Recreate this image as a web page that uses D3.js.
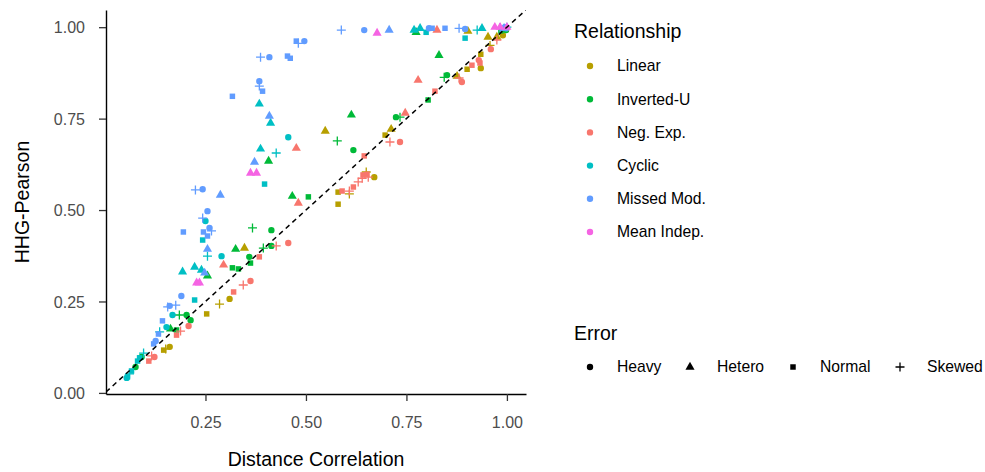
<!DOCTYPE html>
<html>
<head>
<meta charset="utf-8">
<script src="https://cdn.jsdelivr.net/npm/d3@7"></script>
<style>
  body { margin: 0; background: #fff; }
  text { font-family: "Liberation Sans", Arial, Helvetica, sans-serif; }
</style>
</head>
<body>
<script>
// ---- Data (x = Distance Correlation, y = HHG-Pearson, error type code) ----
// H = Heavy, T = Hetero, N = Normal, S = Skewed
const relationships = ["Linear", "Inverted-U", "Neg. Exp.", "Cyclic", "Missed Mod.", "Mean Indep."];
const relColors = ["#B79F00", "#00BA38", "#F8766D", "#00BFC4", "#619CFF", "#F564E3"];
const errorCodes = ["H", "T", "N", "S"];
const errorNames = ["Heavy", "Hetero", "Normal", "Skewed"];
const xTicks = [0.25, 0.50, 0.75, 1.00];
const yTicks = [0.00, 0.25, 0.50, 0.75, 1.00];

const linear = [
  [0.548,0.716,"T"],[0.712,0.721,"T"],[0.697,0.705,"N"],[0.347,0.396,"T"],[0.310,0.257,"H"],
  [0.285,0.243,"S"],[0.253,0.216,"N"],[0.146,0.117,"N"],[0.151,0.120,"S"],[0.161,0.126,"H"],
  [0.670,0.590,"H"],[0.650,0.604,"S"],[0.580,0.549,"N"],[0.580,0.516,"N"],[0.608,0.544,"S"],
  [0.901,0.885,"N"],[0.935,0.888,"H"],[0.935,0.926,"N"],[0.876,0.866,"T"],[0.953,0.973,"T"],
  [0.975,0.973,"T"],[0.990,0.978,"H"],[0.903,0.989,"T"],[0.958,0.950,"S"],[0.995,0.995,"N"]
];
const invertedU = [
  [0.407,0.634,"T"],[0.466,0.538,"T"],[0.506,0.536,"N"],[0.367,0.451,"S"],[0.414,0.445,"H"],
  [0.325,0.393,"T"],[0.394,0.396,"S"],[0.414,0.402,"H"],[0.359,0.372,"H"],[0.362,0.355,"N"],
  [0.317,0.342,"N"],[0.332,0.339,"N"],[0.255,0.320,"T"],[0.185,0.213,"S"],[0.203,0.213,"H"],
  [0.213,0.199,"H"],[0.163,0.175,"T"],[0.178,0.172,"N"],[0.091,0.098,"H"],[0.076,0.071,"H"],
  [0.613,0.760,"T"],[0.578,0.689,"S"],[0.618,0.664,"H"],[0.724,0.754,"H"],[0.734,0.754,"S"],
  [0.804,0.801,"N"],[0.851,0.869,"H"],[0.844,0.863,"S"],[0.831,0.923,"T"],[0.774,0.986,"T"],
  [0.998,0.992,"H"],[0.985,0.990,"N"]
];
const negExp = [
  [0.476,0.669,"T"],[0.481,0.519,"T"],[0.456,0.410,"H"],[0.426,0.402,"S"],[0.384,0.372,"N"],
  [0.295,0.350,"T"],[0.362,0.306,"H"],[0.344,0.295,"S"],[0.320,0.276,"N"],[0.208,0.183,"H"],
  [0.188,0.169,"S"],[0.178,0.158,"N"],[0.123,0.098,"H"],[0.109,0.087,"N"],[0.116,0.101,"S"],
  [0.826,0.992,"T"],[0.960,0.940,"H"],[0.930,0.910,"H"],[0.933,0.902,"N"],[0.913,0.896,"N"],
  [0.881,0.861,"S"],[0.888,0.850,"H"],[0.779,0.855,"T"],[0.821,0.825,"N"],[0.747,0.765,"T"],
  [0.709,0.686,"S"],[0.734,0.686,"H"],[0.645,0.648,"N"],[0.642,0.596,"N"],[0.652,0.598,"N"],
  [0.655,0.590,"S"],[0.640,0.587,"S"],[0.630,0.577,"S"],[0.618,0.563,"N"],[0.608,0.552,"S"],
  [0.590,0.552,"N"],[0.999,0.997,"H"],[0.975,0.965,"S"]
];
const cyclic = [
  [0.384,0.790,"T"],[0.412,0.738,"T"],[0.456,0.699,"H"],[0.387,0.667,"T"],[0.426,0.656,"S"],
  [0.397,0.571,"N"],[0.250,0.470,"H"],[0.243,0.418,"N"],[0.255,0.374,"S"],[0.290,0.374,"H"],
  [0.193,0.331,"T"],[0.223,0.344,"T"],[0.240,0.336,"T"],[0.223,0.254,"N"],[0.168,0.213,"H"],
  [0.153,0.180,"H"],[0.136,0.167,"S"],[0.096,0.109,"S"],[0.086,0.096,"N"],[0.081,0.087,"N"],
  [0.066,0.060,"N"],[0.061,0.052,"S"],[0.056,0.044,"N"],[0.054,0.041,"H"],[0.769,0.992,"T"],
  [0.784,0.997,"T"],[0.799,0.986,"N"],[0.896,0.970,"N"],[0.926,0.992,"S"],[0.938,0.997,"T"],
  [1.000,1.000,"S"],[0.997,0.997,"H"]
];
const missedMod = [
  [0.476,0.962,"N"],[0.481,0.956,"S"],[0.496,0.962,"H"],[0.387,0.918,"S"],[0.409,0.918,"H"],
  [0.454,0.921,"N"],[0.461,0.915,"N"],[0.384,0.852,"H"],[0.384,0.839,"S"],[0.392,0.825,"N"],
  [0.317,0.811,"N"],[0.409,0.757,"T"],[0.372,0.631,"T"],[0.225,0.555,"S"],[0.243,0.557,"H"],
  [0.287,0.541,"T"],[0.255,0.497,"H"],[0.243,0.478,"S"],[0.260,0.451,"H"],[0.195,0.440,"N"],
  [0.245,0.440,"N"],[0.265,0.443,"S"],[0.255,0.429,"N"],[0.255,0.393,"T"],[0.248,0.328,"T"],
  [0.190,0.265,"H"],[0.156,0.235,"S"],[0.176,0.240,"S"],[0.161,0.238,"H"],[0.143,0.197,"N"],
  [0.133,0.161,"N"],[0.126,0.142,"H"],[0.121,0.134,"N"],[0.588,0.992,"S"],[0.645,0.992,"H"],
  [0.707,0.992,"T"],[0.806,0.997,"H"],[0.814,0.997,"N"],[0.846,0.997,"N"],[0.881,0.997,"S"],
  [0.896,0.995,"H"],[0.983,0.999,"S"],[0.993,0.997,"T"],[0.995,1.000,"H"]
];
const meanIndep = [
  [0.362,0.601,"T"],[0.377,0.601,"T"],[0.228,0.301,"T"],[0.235,0.301,"T"],[0.677,0.984,"T"],
  [0.970,1.000,"T"],[0.983,1.000,"T"],[1.000,1.000,"T"]
];
const seriesData = [linear, invertedU, negExp, cyclic, missedMod, meanIndep];

// ---- Chart ----
const W = 985, H = 472;
const svg = d3.select("body").append("svg").attr("width", W).attr("height", H);

const x = d3.scaleLinear().domain([0.0025, 1.0475]).range([106, 526]);
const y = d3.scaleLinear().domain([-0.003, 1.047]).range([394, 10]);
const color = d3.scaleOrdinal().domain(relationships).range(relColors);
const errName = d3.scaleOrdinal().domain(errorCodes).range(errorNames);

const symCircle = d3.symbol().type(d3.symbolCircle).size(32)();
const symTri = d3.symbol().type(d3.symbolTriangle).size(36)();
const symSquare = d3.symbol().type(d3.symbolSquare).size(30)();
const symPlus = "M-4.5,0H4.5M0,-4.5V4.5";
const shapePath = { H: symCircle, T: symTri, N: symSquare, S: symPlus };

function drawShape(g, code, col) {
  const p = g.append("path").attr("d", shapePath[code]);
  if (code === "S") p.attr("fill", "none").attr("stroke", col).attr("stroke-width", 1.3);
  else p.attr("fill", col).attr("stroke", "none");
  return p;
}

// clip for panel
svg.append("defs").append("clipPath").attr("id", "panel")
  .append("rect").attr("x", 106).attr("y", 10).attr("width", 420).attr("height", 384);

// points
const pts = svg.append("g");
seriesData.forEach((arr, i) => {
  const col = color(relationships[i]);
  arr.forEach(d => {
    const g = pts.append("g").attr("transform", `translate(${x(d[0])},${y(d[1])})`);
    drawShape(g, d[2], col);
  });
});

// identity line
svg.append("line")
  .attr("clip-path", "url(#panel)")
  .attr("x1", x(0.0025)).attr("y1", y(0.0025))
  .attr("x2", x(1.0475)).attr("y2", y(1.0475))
  .attr("stroke", "#000").attr("stroke-width", 1.5).attr("stroke-dasharray", "5,4");

// axes
const xAxis = svg.append("g").attr("transform", "translate(0,394)")
  .call(d3.axisBottom(x).tickValues(xTicks).tickFormat(d3.format(".2f")).tickSize(7).tickSizeOuter(0));
const yAxis = svg.append("g").attr("transform", "translate(106,0)")
  .call(d3.axisLeft(y).tickValues(yTicks).tickFormat(d3.format(".2f")).tickSize(7).tickSizeOuter(0));
[xAxis, yAxis].forEach(a => {
  a.select(".domain").attr("stroke", "#000").attr("stroke-width", 1.4);
  a.selectAll(".tick line").attr("stroke", "#333").attr("stroke-width", 1.3);
  a.selectAll(".tick text").attr("fill", "#4D4D4D").style("font-size", "16px");
});
xAxis.selectAll(".tick text").attr("y", 34).attr("dy", 0);
yAxis.selectAll(".tick text").attr("x", -21).attr("dy", "0.35em");

// axis titles
svg.append("text").attr("x", 316).attr("y", 466).attr("text-anchor", "middle")
  .style("font-size", "19.5px").attr("fill", "#000").text("Distance Correlation");
svg.append("text").attr("transform", "translate(29,202) rotate(-90)").attr("text-anchor", "middle")
  .style("font-size", "19.5px").attr("fill", "#000").text("HHG-Pearson");

// legend: Relationship
const leg = svg.append("g");
leg.append("text").attr("x", 574).attr("y", 38).style("font-size", "19.5px").attr("fill", "#000").text("Relationship");
relationships.forEach((r, i) => {
  const cy = 66 + i * 33.2;
  const g = leg.append("g").attr("transform", `translate(590,${cy})`);
  drawShape(g, "H", color(r));
  leg.append("text").attr("x", 617).attr("y", cy).attr("dy", "0.35em")
    .style("font-size", "15.7px").attr("fill", "#000").text(r);
});

// legend: Error
leg.append("text").attr("x", 574).attr("y", 340).style("font-size", "19.5px").attr("fill", "#000").text("Error");
const errSymX = [590, 690, 793, 900];
errorCodes.forEach((c, i) => {
  const g = leg.append("g").attr("transform", `translate(${errSymX[i]},367)`);
  drawShape(g, c, "#000");
  leg.append("text").attr("x", errSymX[i] + 27).attr("y", 367).attr("dy", "0.35em")
    .style("font-size", "15.7px").attr("fill", "#000").text(errName(c));
});
</script>
</body>
</html>
